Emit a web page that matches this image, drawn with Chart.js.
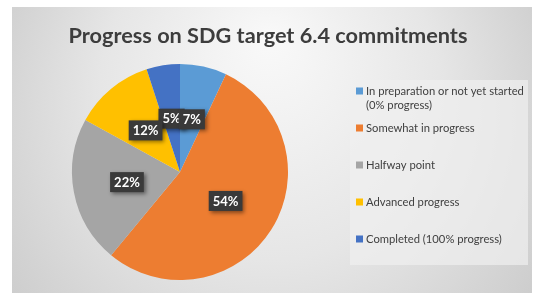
<!DOCTYPE html>
<html>
<head>
<meta charset="utf-8">
<script src="https://cdn.jsdelivr.net/npm/chart.js@4/dist/chart.umd.min.js"></script>
<style>
html,body{margin:0;padding:0;background:#fff;}
#wrap{width:537px;height:293px;position:relative;}
</style>
</head>
<body>
<div id="wrap"><canvas id="c" width="537" height="293"></canvas></div>
<script>
const titleText = "Progress on SDG target 6.4 commitments";
const categories = [
  ["In preparation or not yet started", "(0% progress)"],
  ["Somewhat in progress"],
  ["Halfway point"],
  ["Advanced progress"],
  ["Completed (100% progress)"]
];
const values = [7, 54, 22, 12, 5];
const colors = ["#5B9BD5", "#ED7D31", "#A5A5A5", "#FFC000", "#4472C4"];

const FONT = 'Lato, "Open Sans", sans-serif';

const bgPlugin = {
  id: 'bg',
  beforeDraw(chart) {
    const ctx = chart.ctx;
    ctx.save();
    ctx.fillStyle = '#ffffff';
    ctx.fillRect(0, 0, 537, 293);
    const g = ctx.createRadialGradient(270, 40, 10, 270, 140, 330);
    g.addColorStop(0, '#f8f8f8');
    g.addColorStop(0.5, '#e6e6e6');
    g.addColorStop(1, '#c9c9c9');
    ctx.fillStyle = g;
    ctx.fillRect(12, 7, 520, 286);
    ctx.fillStyle = 'rgba(240,240,240,0.7)';
    ctx.fillRect(350, 80, 178, 185);
    ctx.fillStyle = '#3d3d3d';
    let size = 24;
    ctx.font = 'bold ' + size + 'px ' + FONT;
    const w = ctx.measureText(titleText).width;
    size = size * 399 / w;
    ctx.font = 'bold ' + size.toFixed(2) + 'px ' + FONT;
    ctx.textAlign = 'center';
    ctx.textBaseline = 'middle';
    ctx.fillText(titleText, 268, 36);
    ctx.restore();
  }
};

const legendPlugin = {
  id: 'customLegend',
  afterDraw(chart) {
    const ctx = chart.ctx;
    ctx.save();
    let size = 11;
    ctx.font = size + 'px ' + FONT;
    const labels = chart.data.labels;
    const w = ctx.measureText(labels[0][0]).width;
    size = size * 158 / w;
    ctx.font = size.toFixed(2) + 'px ' + FONT;
    ctx.textBaseline = 'middle';
    ctx.textAlign = 'left';
    const ys = [91, 128, 165, 202, 239];
    labels.forEach((lab, i) => {
      const y = ys[i];
      ctx.fillStyle = chart.data.datasets[0].backgroundColor[i];
      ctx.fillRect(356, y - 3.5, 7, 7);
      ctx.fillStyle = '#404040';
      const lines = Array.isArray(lab) ? lab : [lab];
      lines.forEach((ln, j) => ctx.fillText(ln, 366, y + 0.5 + j * 13.5));
    });
    ctx.restore();
  }
};

const labelPlugin = {
  id: 'sliceLabels',
  afterDatasetsDraw(chart) {
    const ctx = chart.ctx;
    const meta = chart.getDatasetMeta(0);
    const ds = chart.data.datasets[0];
    const total = ds.data.reduce((a, b) => a + b, 0);
    ctx.save();
    ctx.font = 'bold 13px ' + FONT;
    ctx.textAlign = 'center';
    ctx.textBaseline = 'middle';
    const order = [4, 3, 2, 1, 0];
    order.forEach(i => {
      const arc = meta.data[i];
      const mid = (arc.startAngle + arc.endAngle) / 2;
      const r = arc.outerRadius * 0.5;
      const x = arc.x + Math.cos(mid) * r;
      const y = arc.y + Math.sin(mid) * r;
      const txt = Math.round(ds.data[i] / total * 100) + '%';
      const tw = ctx.measureText(txt).width + 8;
      const th = 20;
      ctx.shadowColor = 'rgba(0,0,0,0.45)';
      ctx.shadowBlur = 4;
      ctx.shadowOffsetX = 2;
      ctx.shadowOffsetY = 2;
      ctx.fillStyle = '#3a3a3a';
      ctx.fillRect(x - tw / 2, y - th / 2, tw, th);
      ctx.shadowColor = 'transparent';
      ctx.fillStyle = '#ffffff';
      ctx.fillText(txt, x, y + 0.5);
    });
    ctx.restore();
  }
};

new Chart(document.getElementById('c'), {
  type: 'pie',
  data: {
    labels: categories,
    datasets: [{
      data: values,
      backgroundColor: colors,
      borderWidth: 0
    }]
  },
  options: {
    responsive: false,
    animation: false,
    layout: { padding: { left: 72, right: 249, top: 64, bottom: 13 } },
    plugins: {
      legend: { display: false },
      title: { display: false },
      tooltip: { enabled: false }
    }
  },
  plugins: [bgPlugin, labelPlugin, legendPlugin]
});
</script>
</body>
</html>
